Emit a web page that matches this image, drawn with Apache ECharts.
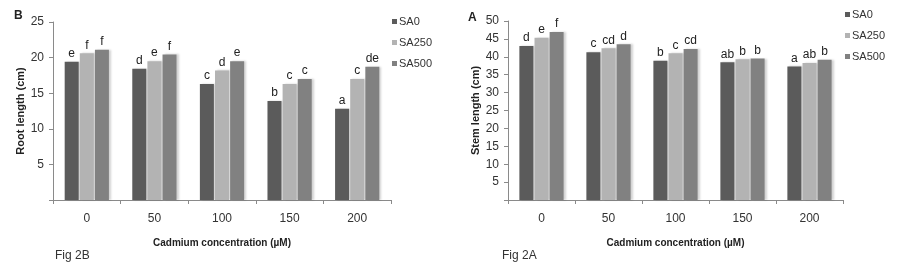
<!DOCTYPE html>
<html>
<head>
<meta charset="utf-8">
<script src="https://cdn.jsdelivr.net/npm/echarts@6/dist/echarts.min.js"></script>
<style>
html,body{margin:0;padding:0;background:#fff;}
#main{width:905px;height:268px;}
</style>
</head>
<body>
<div id="main"></div>
<script>
// categories (Cd concentration, uM)
var cats = ['0', '50', '100', '150', '200'];
var seriesNames = ['SA0', 'SA250', 'SA500'];

// Fig 2B root length (cm)
var rootSA0   = [19.4, 18.45, 16.3, 13.9, 12.8];
var rootSA250 = [20.6, 19.5, 18.2, 16.3, 17.0];
var rootSA500 = [21.1, 20.45, 19.5, 17.0, 18.7];
var rootLetters = [
    ['e', 'd', 'c', 'b', 'a'],
    ['f', 'e', 'd', 'c', 'c'],
    ['f', 'f', 'e', 'c', 'de']
];

// Fig 2A stem length (cm)
var stemSA0   = [43.0, 41.3, 38.9, 38.45, 37.3];
var stemSA250 = [45.3, 42.4, 41.0, 39.3, 38.3];
var stemSA500 = [46.9, 43.5, 42.2, 39.5, 39.2];
var stemLetters = [
    ['d', 'c', 'b', 'ab', 'a'],
    ['e', 'cd', 'c', 'b', 'ab'],
    ['f', 'd', 'cd', 'b', 'b']
];

var colors = ['#5b5b5b', '#b3b3b3', '#818181'];
var fontFam = '"Liberation Sans", Arial, sans-serif';
var axisCol = '#8a8a8a';

var myChart = echarts.init(document.getElementById('main'));

function mkX(idx){
    return {
        type: 'category',
        gridIndex: idx,
        data: cats,
        name: 'Cadmium concentration (\u00b5M)',
        nameLocation: 'middle',
        nameGap: 38,
        nameTextStyle: { fontFamily: fontFam, fontSize: 10, fontWeight: 'bold', color: '#222' },
        axisLine: { lineStyle: { color: axisCol } },
        axisTick: { show: true, length: 4, lineStyle: { color: axisCol } },
        axisLabel: { fontFamily: fontFam, fontSize: 12, color: '#333', margin: 13 },
        splitLine: { show: false }
    };
}
function mkY(idx, max, title){
    return {
        type: 'value',
        gridIndex: idx,
        min: 0, max: max, interval: 5,
        name: title,
        nameLocation: 'middle',
        nameGap: 23,
        nameTextStyle: { fontFamily: fontFam, fontSize: 11, fontWeight: 'bold', color: '#222' },
        axisLine: { show: true, lineStyle: { color: axisCol } },
        axisTick: { show: true, length: 4, lineStyle: { color: axisCol } },
        axisLabel: {
            fontFamily: fontFam, fontSize: 12, color: '#333', margin: 9,
            formatter: function(v){ return v === 0 ? '' : v; }
        },
        splitLine: { show: false }
    };
}
function mkBar(name, data, letters, xi, ci){
    return {
        name: name,
        type: 'bar',
        xAxisIndex: xi, yAxisIndex: xi,
        data: data,
        barWidth: 14,
        barGap: '8%',
        itemStyle: {
            color: colors[ci],
            shadowColor: 'rgba(0,0,0,0.18)', shadowOffsetX: 2, shadowBlur: 2
        },
        label: {
            show: true, position: 'top', distance: 2,
            fontFamily: fontFam, fontSize: 12, color: '#222',
            formatter: function(p){ return letters[p.dataIndex]; }
        }
    };
}
function mkLegend(left, top){
    return {
        orient: 'vertical',
        left: left, top: top,
        itemWidth: 5, itemHeight: 5, itemGap: 10,
        icon: 'rect',
        data: seriesNames,
        textStyle: { fontFamily: fontFam, fontSize: 11, color: '#333', padding: [0, 0, 0, -3] }
    };
}

var option = {
    animation: false,
    color: colors,
    grid: [
        { left: 53, top: 22, right: 514, bottom: 68 },
        { left: 508, top: 21, right: 62, bottom: 68 }
    ],
    legend: [ mkLegend(387, 11), mkLegend(840, 4) ],
    xAxis: [ mkX(0), mkX(1) ],
    yAxis: [ mkY(0, 25, 'Root length (cm)'), mkY(1, 50, 'Stem length (cm)') ],
    graphic: [
        { type: 'text', left: 14, top: 10, style: { text: 'B', font: 'bold 12px ' + fontFam, fill: '#222' } },
        { type: 'text', left: 468, top: 12, style: { text: 'A', font: 'bold 12px ' + fontFam, fill: '#222' } },
        { type: 'text', left: 55, top: 250, style: { text: 'Fig 2B', font: '12px ' + fontFam, fill: '#333' } },
        { type: 'text', left: 502, top: 250, style: { text: 'Fig 2A', font: '12px ' + fontFam, fill: '#333' } }
    ],
    series: [
        mkBar('SA0', rootSA0, rootLetters[0], 0, 0),
        mkBar('SA250', rootSA250, rootLetters[1], 0, 1),
        mkBar('SA500', rootSA500, rootLetters[2], 0, 2),
        mkBar('SA0', stemSA0, stemLetters[0], 1, 0),
        mkBar('SA250', stemSA250, stemLetters[1], 1, 1),
        mkBar('SA500', stemSA500, stemLetters[2], 1, 2)
    ]
};
myChart.setOption(option, true);
</script>
</body>
</html>
